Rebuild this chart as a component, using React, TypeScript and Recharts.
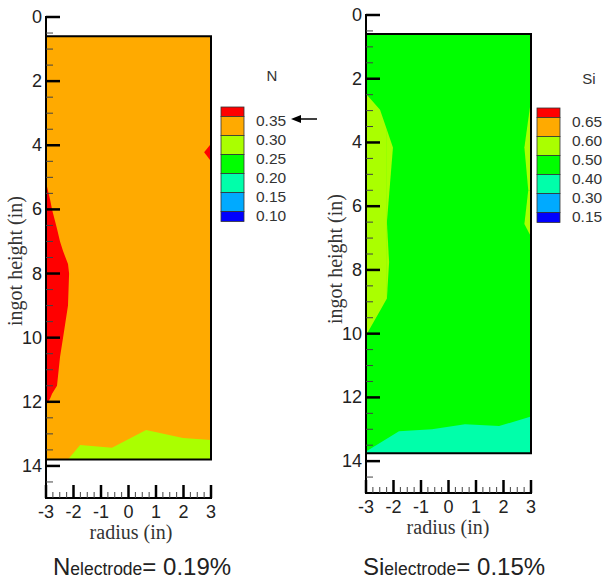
import { Area, ComposedChart, ReferenceArea, XAxis, YAxis } from "recharts";

const SANS = "'Liberation Sans', Arial, sans-serif";
const SERIF = "'Liberation Serif', 'Times New Roman', serif";

const RED = "#ff0000";
const ORANGE = "#ffaa00";
const LIME = "#aaff00";
const GREEN = "#00ff00";
const MINT = "#00ffaa";
const SKY = "#00aaff";
const BLUE = "#0000ff";

const LEGEND_COLORS = [RED, ORANGE, LIME, GREEN, MINT, SKY, BLUE];
const N_LEVELS = ["0.35", "0.30", "0.25", "0.20", "0.15", "0.10"];
const SI_LEVELS = ["0.65", "0.60", "0.50", "0.40", "0.30", "0.15"];

const X_TICKS = [
  -3, -2.75, -2.5, -2.25, -2, -1.75, -1.5, -1.25, -1, -0.75, -0.5, -0.25, 0,
  0.25, 0.5, 0.75, 1, 1.25, 1.5, 1.75, 2, 2.25, 2.5, 2.75, 3,
];
const Y_TICKS = [
  0, 0.5, 1, 1.5, 2, 2.5, 3, 3.5, 4, 4.5, 5, 5.5, 6, 6.5, 7, 7.5, 8, 8.5, 9,
  9.5, 10, 10.5, 11, 11.5, 12, 12.5, 13, 13.5, 14, 14.5,
];

type Pt = { x: number; r: [number, number] };

// N contour bands (x = radius, r = [upper, lower] ingot height)
const N_FRAME: [number, number] = [0.6, 13.8];
const N_BASE: Pt[] = [
  { x: -3, r: [0.6, 13.8] },
  { x: 3, r: [0.6, 13.8] },
];
const N_RED_LEFT: Pt[] = [
  { x: -3, r: [5.15, 12.1] },
  { x: -2.85, r: [5.7, 11.9] },
  { x: -2.78, r: [6.0, 11.75] },
  { x: -2.6, r: [6.6, 11.5] },
  { x: -2.49, r: [7.0, 10.6] },
  { x: -2.38, r: [7.3, 10.0] },
  { x: -2.2, r: [7.7, 9.0] },
  { x: -2.16, r: [8.0, 8.0] },
];
const N_RED_RIGHT: Pt[] = [
  { x: 2.75, r: [4.22, 4.22] },
  { x: 3, r: [3.95, 4.5] },
];
const N_BOTTOM: Pt[] = [
  { x: -2.2, r: [13.8, 13.8] },
  { x: -1.76, r: [13.35, 13.8] },
  { x: -0.6, r: [13.43, 13.8] },
  { x: 0.64, r: [12.88, 13.8] },
  { x: 1.98, r: [13.13, 13.8] },
  { x: 3, r: [13.19, 13.8] },
];

// Si contour bands
const SI_FRAME: [number, number] = [0.6, 13.75];
const SI_BASE: Pt[] = [
  { x: -3, r: [0.6, 13.75] },
  { x: 3, r: [0.6, 13.75] },
];
const SI_LEFT_A: Pt[] = [
  { x: -3, r: [2.47, 10.05] },
  { x: -2.93, r: [2.54, 9.95] },
  { x: -2.49, r: [2.97, 9.28] },
  { x: -2.24, r: [3.6, 8.9] },
];
const SI_LEFT_B: Pt[] = [
  { x: -2.24, r: [3.6, 6.5] },
  { x: -2.02, r: [4.16, 4.16] },
];
const SI_LEFT_C: Pt[] = [
  { x: -2.24, r: [6.5, 8.9] },
  { x: -2.16, r: [7.75, 7.75] },
];
const SI_RIGHT_A: Pt[] = [
  { x: 2.76, r: [4.16, 4.16] },
  { x: 2.9, r: [3.28, 5.5] },
  { x: 3, r: [2.66, 5.5] },
];
const SI_RIGHT_B: Pt[] = [
  { x: 2.76, r: [6.56, 6.56] },
  { x: 2.9, r: [5.5, 6.79] },
  { x: 3, r: [5.5, 6.95] },
];
const SI_BOTTOM: Pt[] = [
  { x: -3, r: [13.7, 13.75] },
  { x: -1.8, r: [13.06, 13.75] },
  { x: -0.6, r: [13.0, 13.75] },
  { x: 0.6, r: [12.84, 13.75] },
  { x: 1.84, r: [12.9, 13.75] },
  { x: 3, r: [12.6, 13.75] },
];

function XTick({ x, y, payload }: any) {
  const v = payload.value;
  const major = Number.isInteger(v);
  return (
    <g>
      <line
        x1={x}
        x2={x}
        y1={y}
        y2={y - (major ? 13 : 6)}
        stroke={major ? "#000" : "#444"}
        strokeWidth={major ? 2.5 : 1}
      />
      {major && (
        <text
          x={x}
          y={y + 14}
          textAnchor="middle"
          dominantBaseline="central"
          fontSize={18}
          fontFamily={SANS}
          fill="#222"
        >
          {v}
        </text>
      )}
    </g>
  );
}

function YTick({ x, y, payload }: any) {
  const v = payload.value;
  const major = v % 2 === 0;
  return (
    <g>
      <line
        x1={x}
        x2={x + (major ? 14 : 7)}
        y1={y}
        y2={y}
        stroke={major ? "#000" : "#444"}
        strokeWidth={major ? 2.5 : 1}
      />
      {major && (
        <text
          x={x - 4}
          y={y}
          textAnchor="end"
          dominantBaseline="central"
          fontSize={18}
          fontFamily={SANS}
          fill="#222"
        >
          {v}
        </text>
      )}
    </g>
  );
}

function Panel({
  left,
  margin,
  frame,
  layers,
}: {
  left: number;
  margin: { top: number; right: number; bottom: number; left: number };
  frame: [number, number];
  layers: { data: Pt[]; fill: string }[];
}) {
  return (
    <div style={{ position: "absolute", left, top: 0 }}>
      <ComposedChart width={300} height={580} margin={margin}>
        {layers.map((l, i) => (
          <Area
            key={i}
            data={l.data}
            dataKey="r"
            type="linear"
            fill={l.fill}
            fillOpacity={1}
            stroke="none"
            dot={false}
            activeDot={false}
            isAnimationActive={false}
          />
        ))}
        <ReferenceArea
          x1={-3}
          x2={3}
          y1={frame[0]}
          y2={frame[1]}
          fill="none"
          fillOpacity={0}
          stroke="#000"
          strokeWidth={2}
        />
        <XAxis
          type="number"
          dataKey="x"
          domain={[-3, 3]}
          ticks={X_TICKS}
          interval={0}
          height={1}
          tickSize={0}
          tickMargin={0}
          tickLine={false}
          tick={XTick}
          axisLine={{ stroke: "#000", strokeWidth: 2, strokeLinecap: "square" }}
          allowDataOverflow
        />
        <YAxis
          type="number"
          domain={[0, 15]}
          reversed
          ticks={Y_TICKS}
          interval={0}
          width={1}
          tickSize={0}
          tickMargin={0}
          tickLine={false}
          tick={YTick}
          axisLine={{ stroke: "#000", strokeWidth: 2, strokeLinecap: "square" }}
          allowDataOverflow
        />
      </ComposedChart>
    </div>
  );
}

function ColorBar({ x, top, title, titleX, titleY, levels }: any) {
  // half-height end bands, full bands in between
  const edges = [0, 9.5, 28.5, 47.5, 66.5, 85.5, 104.5, 114.5];
  return (
    <g>
      <text
        x={titleX}
        y={titleY}
        textAnchor="middle"
        dominantBaseline="central"
        fontSize={15}
        fontFamily={SANS}
        fill="#333"
      >
        {title}
      </text>
      {LEGEND_COLORS.map((c, i) => (
        <rect
          key={c}
          x={x}
          y={top + edges[i]}
          width={23}
          height={edges[i + 1] - edges[i]}
          fill={c}
          stroke="#333"
          strokeWidth={0.8}
        />
      ))}
      {levels.map((lv: string, i: number) => (
        <text
          key={lv}
          x={x + 35}
          y={top + edges[i + 1] + 4}
          dominantBaseline="central"
          fontSize={15.5}
          fontFamily={SANS}
          fill="#333"
        >
          {lv}
        </text>
      ))}
    </g>
  );
}

export default function App() {
  return (
    <div
      style={{
        position: "absolute",
        left: 0,
        top: 0,
        width: 603,
        height: 580,
        background: "#fff",
        overflow: "hidden",
      }}
    >
      <Panel
        left={0}
        margin={{ top: 17, right: 89, bottom: 81, left: 45 }}
        frame={N_FRAME}
        layers={[
          { data: N_BASE, fill: ORANGE },
          { data: N_RED_LEFT, fill: RED },
          { data: N_RED_RIGHT, fill: RED },
          { data: N_BOTTOM, fill: LIME },
        ]}
      />
      <Panel
        left={300}
        margin={{ top: 15, right: 69, bottom: 86, left: 65 }}
        frame={SI_FRAME}
        layers={[
          { data: SI_BASE, fill: GREEN },
          { data: SI_LEFT_A, fill: LIME },
          { data: SI_LEFT_B, fill: LIME },
          { data: SI_LEFT_C, fill: LIME },
          { data: SI_RIGHT_A, fill: LIME },
          { data: SI_RIGHT_B, fill: LIME },
          { data: SI_BOTTOM, fill: MINT },
        ]}
      />
      <svg
        width={603}
        height={580}
        style={{ position: "absolute", left: 0, top: 0, pointerEvents: "none" }}
      >
        <ColorBar x={221} top={107} title="N" titleX={272} titleY={75} levels={N_LEVELS} />
        <ColorBar x={537} top={108} title="Si" titleX={589} titleY={78} levels={SI_LEVELS} />

        <line x1={317} y1={119} x2={299} y2={119} stroke="#000" strokeWidth={1.5} />
        <path d="M291 119 L301 115 L301 123 Z" fill="#000" />

        <text
          transform="translate(15 261) rotate(-90)"
          textAnchor="middle"
          dominantBaseline="central"
          fontSize={20}
          fontFamily={SERIF}
          fill="#333"
        >
          ingot height (in)
        </text>
        <text
          transform="translate(335 259) rotate(-90)"
          textAnchor="middle"
          dominantBaseline="central"
          fontSize={20}
          fontFamily={SERIF}
          fill="#333"
        >
          ingot height (in)
        </text>
        <text x={131} y={532} textAnchor="middle" dominantBaseline="central" fontSize={20} fontFamily={SERIF} fill="#333">
          radius (in)
        </text>
        <text x={448} y={527} textAnchor="middle" dominantBaseline="central" fontSize={20} fontFamily={SERIF} fill="#333">
          radius (in)
        </text>

        <text x={53} y={575} fontSize={24} fontFamily={SANS} fill="#222">
          N<tspan fontSize={17.5}>electrode</tspan>= 0.19%
        </text>
        <text x={363} y={575} fontSize={24} fontFamily={SANS} fill="#222">
          Si<tspan fontSize={17.5}>electrode</tspan>= 0.15%
        </text>
      </svg>
    </div>
  );
}
